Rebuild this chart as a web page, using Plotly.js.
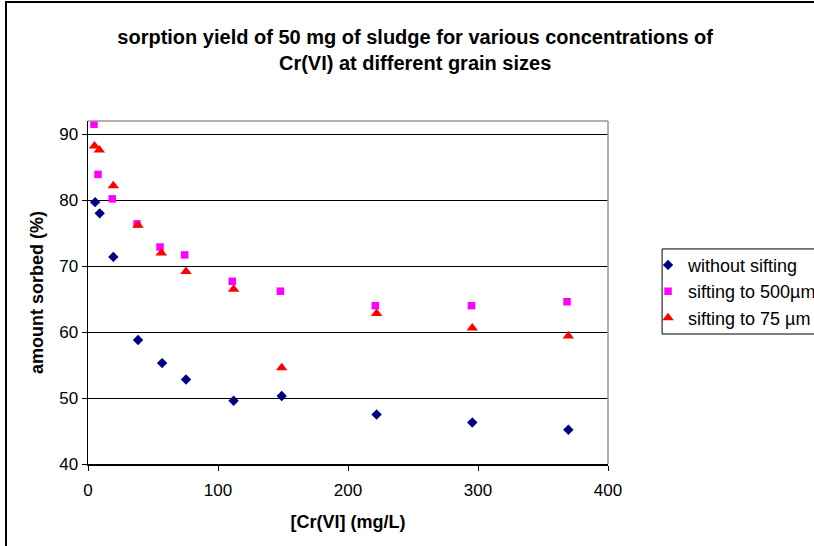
<!DOCTYPE html>
<html><head><meta charset="utf-8">
<script src="https://cdn.plot.ly/plotly-3.0.1.min.js"></script>
<style>
html,body{margin:0;padding:0;background:#fff;}
#wrap{position:relative;width:814px;height:546px;overflow:hidden;}
#chart{width:814px;height:546px;}
#frame{position:absolute;left:5px;top:1px;width:820px;height:560px;border-left:2px solid #000;border-top:2px solid #000;pointer-events:none;box-sizing:border-box;}
</style>
</head><body>
<div id="wrap"><div id="chart"></div><div id="frame"></div></div>
<script>
const seriesNames = ["without sifting", "sifting to 500µm", "sifting to 75 µm"];
const xWithout = [5.5, 9, 19.5, 38.5, 57, 75.4, 112, 149, 222, 295.6, 369.5];
const yWithout = [79.7, 78.0, 71.4, 58.8, 55.3, 52.8, 49.6, 50.3, 47.5, 46.3, 45.2];
const x500 = [4.6, 7.7, 18.7, 37.7, 55.4, 74.4, 111, 148, 221, 295, 368.5];
const y500 = [91.5, 83.9, 80.2, 76.4, 72.9, 71.7, 67.7, 66.2, 64.0, 64.0, 64.6];
const x75 = [5, 8.7, 19.5, 38.5, 56.4, 75.4, 112, 149, 222, 295.6, 369.5];
const y75 = [88.2, 87.6, 82.2, 76.2, 72.0, 69.2, 66.5, 54.6, 62.8, 60.6, 59.4];
const xTicks = [0, 100, 200, 300, 400];
const yTicks = [40, 50, 60, 70, 80, 90];

const font = "Arial, 'Liberation Sans', sans-serif";
const traces = [
  {x: xWithout, y: yWithout, name: seriesNames[0], type: "scatter", mode: "markers",
   marker: {symbol: "diamond", size: 8, color: "#000080"}},
  {x: x500, y: y500, name: seriesNames[1], type: "scatter", mode: "markers",
   marker: {symbol: "square", size: 7.5, color: "#FF00FF"}},
  {x: x75, y: y75, name: seriesNames[2], type: "scatter", mode: "markers",
   marker: {symbol: "triangle-up", size: 10, color: "#FF0000"}}
];
const layout = {
  width: 814, height: 546,
  margin: {l: 88, r: 206, t: 121, b: 82, autoexpand: false},
  paper_bgcolor: "#fff", plot_bgcolor: "#fff",
  font: {family: font, size: 17, color: "#000"},
  showlegend: true,
  title: {text: "<b>sorption yield of 50 mg of sludge for various concentrations of<br>Cr(VI) at different grain sizes</b>",
          font: {family: font, size: 20, color: "#000"}, x: 0.51, xref: "container", y: 0.9185, yanchor: "top", xanchor: "center"},
  xaxis: {range: [0, 400], tickvals: xTicks, ticktext: xTicks.map(String), ticks: "outside", ticklen: 5, tickcolor: "#000",
          ticklabelstandoff: 5,
          showline: true, linecolor: "#000", linewidth: 1.5, showgrid: false, zeroline: false,
          title: {text: "<b>[Cr(VI] (mg/L)</b>", font: {family: font, size: 18}, standoff: 16},
          tickfont: {family: font, size: 17}},
  yaxis: {range: [40, 92], tickvals: yTicks, ticktext: yTicks.map(String), ticks: "outside", ticklen: 5, tickcolor: "#000",
          showline: true, linecolor: "#000", linewidth: 1.5, showgrid: true, gridcolor: "#000", gridwidth: 1, zeroline: false,
          title: {text: "<b>amount sorbed (%)</b>", font: {family: font, size: 18}, standoff: 11},
          tickfont: {family: font, size: 17}},
  legend: {x: 1.077, y: 0.6335, xanchor: "left", yanchor: "top", bgcolor: "rgba(0,0,0,0)", borderwidth: 0,
           font: {family: font, size: 18}},
  shapes: [
    {type: "line", xref: "paper", yref: "paper", x0: 0, x1: 1, y0: 1, y1: 1, line: {color: "#999", width: 1.5}},
    {type: "line", xref: "paper", yref: "paper", x0: 1, x1: 1, y0: 0, y1: 1, line: {color: "#999", width: 1.5}},
    {type: "rect", xref: "paper", yref: "paper", x0: 1.104, x1: 1.5, y0: 0.379, y1: 0.627, line: {color: "#000", width: 1}, layer: "below"}
  ]
};
Plotly.newPlot("chart", traces, layout, {displayModeBar: false, staticPlot: true});
</script>
</body></html>
